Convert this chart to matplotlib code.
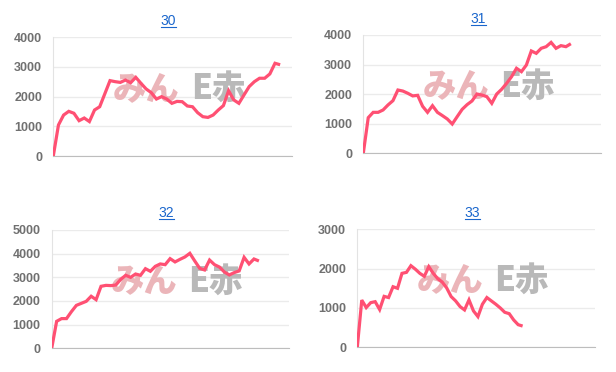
import matplotlib
matplotlib.use("Agg")
import matplotlib.pyplot as plt
from matplotlib.lines import Line2D

plt.rcParams['font.family'] = ['Liberation Sans', 'DejaVu Sans']

# chart data
titles = ["30", "31", "32", "33"]

s30 = [0, 1045, 1380, 1505, 1440, 1190, 1280, 1160, 1550, 1660, 2100,
       2540, 2505, 2480, 2560, 2470, 2650, 2450, 2260, 2135, 1920, 2000,
       1920, 1775, 1840, 1830, 1685, 1660, 1460, 1325, 1300, 1380, 1550,
       1700, 2200, 1890, 1775, 2060, 2340, 2505, 2620, 2620, 2765, 3125,
       3075]
s31 = [0, 1205, 1385, 1385, 1465, 1635, 1780, 2140, 2105, 2030, 1940,
       1960, 1590, 1385, 1610, 1385, 1275, 1160, 990, 1240, 1485, 1645,
       1770, 2005, 1970, 1915, 1690, 2005, 2165, 2365, 2590, 2875, 2760,
       2985, 3460, 3380, 3550, 3605, 3750, 3550, 3640, 3605, 3705]
s32 = [0, 1140, 1255, 1255, 1550, 1815, 1900, 1985, 2200, 2055, 2620,
       2660, 2650, 2675, 2915, 3085, 3000, 3140, 3085, 3365, 3255, 3465,
       3565, 3535, 3790, 3650, 3760, 3860, 4015, 3690, 3380, 3310, 3730,
       3535, 3435, 3225, 3100, 3200, 3270, 3845, 3565, 3775, 3690]
s33 = [0, 1200, 1010, 1135, 1160, 960, 1295, 1265, 1540, 1500, 1880,
       1905, 2075, 1985, 1880, 1805, 2050, 1880, 1745, 1660, 1510, 1290,
       1180, 1035, 950, 1205, 925, 780, 1095, 1265, 1180, 1095, 1000, 890,
       855, 695, 575, 540]
series = [s30, s31, s32, s33]

y_ticks = [[0, 1000, 2000, 3000, 4000],
           [0, 1000, 2000, 3000, 4000],
           [0, 1000, 2000, 3000, 4000, 5000],
           [0, 1000, 2000, 3000]]

# layout (pixels on a 616x372 canvas): left, right, top, bottom of plot area
W, H = 616, 372
boxes = [(53.3, 292, 37.3, 156), (363.3, 601, 35, 153.3),
         (51.7, 289, 230, 348.3), (357.3, 595, 229.3, 347.3)]
x_max = [46.3, 48.1, 48.1, 53.2]
title_pos = [(168, 21), (478, 19), (166, 213), (472, 213)]

line_col = "#ff5073"
fig = plt.figure(figsize=(W / 100, H / 100), dpi=100)

for i in range(4):
    l, r, t, b = boxes[i]
    ax = fig.add_axes([l / W, 1 - b / H, (r - l) / W, (b - t) / H])
    vals = series[i]
    ax.plot(range(len(vals)), vals, color=line_col, lw=2.3, zorder=3,
            solid_joinstyle='miter', solid_capstyle='butt')
    ax.set_xlim(0, x_max[i])
    ax.set_ylim(0, y_ticks[i][-1])
    ax.set_yticks(y_ticks[i])
    ax.set_xticks([])
    ax.tick_params(axis='y', length=0, pad=8, labelsize=9,
                   labelcolor="#707070")
    for lab in ax.get_yticklabels():
        lab.set_fontweight('bold')
    ax.grid(axis='y', color="#ebebeb", lw=1)
    ax.set_axisbelow(True)
    for side in ['top', 'right']:
        ax.spines[side].set_visible(False)
    ax.spines['left'].set_color("#e3e3e3")
    ax.spines['bottom'].set_color("#bdbdbd")

    # watermark logo
    ax.text(0.39, 0.57, "みん", transform=ax.transAxes, ha='center',
            va='center', fontsize=24, fontweight='heavy', color="#ebb5b9",
            family=['Noto Sans CJK JP'], zorder=1)
    ax.text(0.69, 0.57, "E赤", transform=ax.transAxes, ha='center',
            va='center', fontsize=24, fontweight='heavy', color="#b9b9b9",
            family=['Noto Sans CJK JP'], zorder=1)

    # underlined title
    tx, ty = title_pos[i]
    fig.text(tx / W, 1 - ty / H, titles[i], ha='center', va='center',
             fontsize=10, color="#1a66cc")
    fig.add_artist(Line2D([(tx - 7.5) / W, (tx + 7.5) / W],
                          [1 - (ty + 6) / H, 1 - (ty + 6) / H],
                          color="#1a66cc", lw=0.8))

fig.savefig("out.png", dpi=100)
